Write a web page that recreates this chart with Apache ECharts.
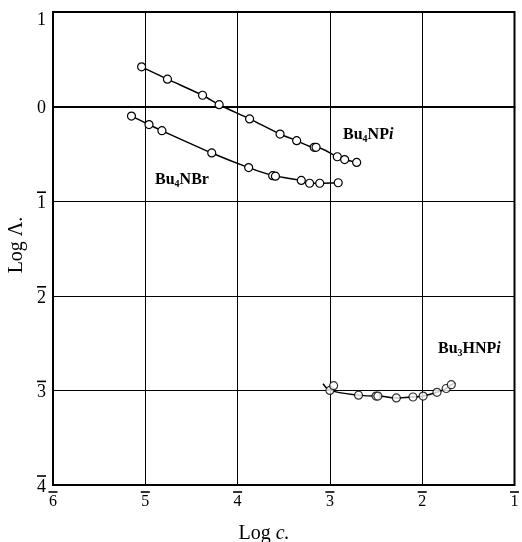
<!DOCTYPE html>
<html><head><meta charset="utf-8">
<script src="https://cdn.jsdelivr.net/npm/echarts@6/dist/echarts.min.js"></script>
<style>html,body{margin:0;padding:0;background:#fff}#c{width:522px;height:542px}</style>
</head><body><div id="c"></div>
<script>
// Tick values and labels (bar notation: negative characteristics carry an overbar)
const xTicks = [-6, -5, -4, -3, -2, -1];
const xTickDigits = ['6', '5', '4', '3', '2', '1'];
const xTickBar = [true, true, true, true, true, true];
const yTicks = [1, 0, -1, -2, -3, -4];
const yTickDigits = ['1', '0', '1', '2', '3', '4'];
const yTickBar = [false, false, true, true, true, true];

// Bu4NPi
const npiX = [-5.04, -4.76, -4.38, -4.20, -3.87, -3.54, -3.36, -3.17, -3.15, -2.92, -2.84, -2.71];
const npiY = [0.42, 0.29, 0.12, 0.02, -0.13, -0.29, -0.36, -0.43, -0.43, -0.53, -0.56, -0.59];
// Bu4NBr
const brX = [-5.15, -4.96, -4.82, -4.28, -3.88, -3.62, -3.59, -3.31, -3.22, -3.11, -2.91];
const brY = [-0.10, -0.19, -0.255, -0.49, -0.645, -0.73, -0.735, -0.78, -0.81, -0.81, -0.805];
// Bu3HNPi
const hnpiX = [-3.00, -2.96, -2.69, -2.50, -2.48, -2.28, -2.10, -1.99, -1.84, -1.74, -1.685];
const hnpiY = [-3.00, -2.95, -3.05, -3.06, -3.06, -3.08, -3.07, -3.06, -3.02, -2.98, -2.94];
// curve continues slightly beyond the measured points
const hnpiTailX = [-3.075, -1.64];
const hnpiTailY = [-2.93, -2.92];

const zip = (xs, ys) => xs.map((x, i) => [x, ys[i]]);
const hnpiCurve = [[hnpiTailX[0], hnpiTailY[0]]]
  .concat(zip(hnpiX, hnpiY).filter((p, i) => i !== 1))
  .concat([[hnpiTailX[1], hnpiTailY[1]]]);

const SERIF = '"Liberation Serif", "DejaVu Serif", serif';
const lineStyle = { color: '#000', width: 1.5 };
const itemStyle = { color: '#fff', borderColor: '#000', borderWidth: 1.2 };

function lineSeries(data) {
  return { type: 'line', data, smooth: 0.3, symbol: 'circle', symbolSize: 8,
    lineStyle, itemStyle, z: 3, animation: false };
}
function tickFmt(ticks, digits, bars, topIdx) {
  return v => {
    const i = ticks.indexOf(Math.round(v));
    if (i < 0) return '';
    const head = bars[i] ? '{bar| }' : (i === topIdx ? '{top| }' : '{nob| }');
    return head + '\n{d|' + digits[i] + '}';
  };
}
function tickRich(size, barW) {
  return {
    bar: { width: barW, height: 1.6, lineHeight: 4, backgroundColor: '#000', fontSize: 1 },
    nob: { width: barW, height: 1.6, lineHeight: 4, fontSize: 1 },
    top: { width: barW, height: 1.6, lineHeight: 16, fontSize: 1 },
    d: { fontFamily: SERIF, fontSize: size, color: '#000', lineHeight: size }
  };
}

const chart = echarts.init(document.getElementById('c'), null, { renderer: 'canvas' });
const labRich = {
  a: { fontFamily: SERIF, fontWeight: 'bold', fontSize: 16, color: '#000' },
  s: { fontFamily: SERIF, fontWeight: 'bold', fontSize: 10, color: '#000', padding: [9, 0, 0, 0] },
  i: { fontFamily: SERIF, fontWeight: 'bold', fontStyle: 'italic', fontSize: 16, color: '#000' }
};
chart.setOption({
  animation: false,
  backgroundColor: '#fff',
  grid: { left: 53, right: 4, top: 12, bottom: 57, show: true, borderColor: '#000', borderWidth: 2 },
  xAxis: {
    type: 'value', min: -6, max: -1, interval: 1,
    axisLine: { lineStyle: { color: '#000', width: 2 } },
    axisTick: { show: false },
    splitLine: { lineStyle: { color: '#000', width: 1 } },
    axisLabel: { margin: 5, color: '#000', formatter: tickFmt(xTicks, xTickDigits, xTickBar, -1),
      rich: tickRich(16, 9) }
  },
  yAxis: {
    type: 'value', min: -4, max: 1, interval: 1,
    axisLine: { lineStyle: { color: '#000', width: 2 } },
    axisTick: { show: false },
    splitLine: { lineStyle: { color: '#000', width: 1 } },
    axisLabel: { margin: 7, color: '#000', formatter: tickFmt(yTicks, yTickDigits, yTickBar, 0),
      rich: tickRich(18, 9) }
  },
  series: [
    lineSeries(zip(npiX, npiY)),
    lineSeries(zip(brX, brY)),
    { type: 'line', data: hnpiCurve, smooth: 0.3, symbol: 'none', lineStyle, z: 2, animation: false },
    { type: 'scatter', data: zip(hnpiX, hnpiY), symbol: 'circle', symbolSize: 8, itemStyle, z: 4, animation: false }
  ],
  graphic: [
    { type: 'text', left: 343, top: 127, style: { text: '{a|Bu}{s|4}{a|NP}{i|i}', rich: labRich } },
    { type: 'text', left: 155, top: 172, style: { text: '{a|Bu}{s|4}{a|NBr}', rich: labRich } },
    { type: 'text', left: 438, top: 341, style: { text: '{a|Bu}{s|3}{a|HNP}{i|i}', rich: labRich } },
    { type: 'text', x: 264, y: 534, style: {
        text: '{a|Log }{i|c.}', align: 'center', verticalAlign: 'middle',
        rich: { a: { fontFamily: SERIF, fontSize: 20, color: '#000' },
                i: { fontFamily: SERIF, fontSize: 20, fontStyle: 'italic', color: '#000' } } } },
    { type: 'text', x: 17, y: 245, rotation: Math.PI / 2, style: {
        text: 'Log \u039B.', align: 'center', verticalAlign: 'middle',
        fontFamily: SERIF, fontSize: 20, fill: '#000' } }
  ]
});
</script>
</body></html>
